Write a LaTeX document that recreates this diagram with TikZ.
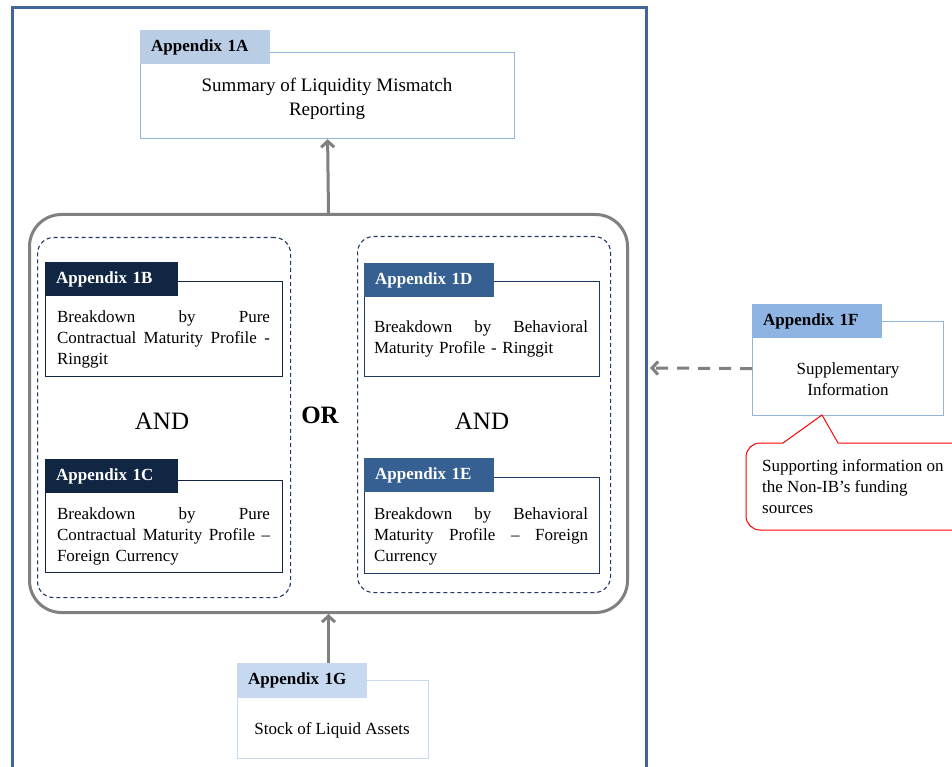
\documentclass[tikz,border=0pt]{standalone}
\usepackage{fontspec}
\setmainfont{Liberation Serif}
\usetikzlibrary{arrows.meta}
\definecolor{frameblue}{RGB}{65,103,154}
\definecolor{tabA}{RGB}{185,205,229}
\definecolor{lineA}{RGB}{149,179,215}
\definecolor{navy}{RGB}{17,38,66}
\definecolor{midblue}{RGB}{55,96,146}
\definecolor{boxnavy}{RGB}{31,56,100}
\definecolor{tabF}{RGB}{141,180,226}
\definecolor{tabG}{RGB}{198,217,241}
\definecolor{arrgray}{RGB}{128,128,128}
\definecolor{calred}{RGB}{255,0,0}
\newcommand\jl[2]{\leavevmode\hbox to #1{#2}}
\tikzset{
  body/.style={font=\fontsize{17}{21}\selectfont, inner sep=0pt},
  tabbox/.style={anchor=north west, minimum height=34pt, text width=108pt, inner xsep=11pt, inner ysep=0pt, align=left, font=\fontsize{17}{20}\selectfont\bfseries},
  panel/.style={anchor=north west, inner sep=0pt},
  arr/.style={draw=arrgray, line width=3pt, -{Straight Barb[length=6pt,width=13pt]}},
}
\begin{document}
\begin{tikzpicture}[x=1pt,y=-1pt]
\clip (0,0) rectangle (952,767);
\fill[white] (0,0) rectangle (952,767);
% outer frame
\draw[frameblue, line width=3pt] (12,800) -- (12,8) -- (646,8) -- (646,800);
% Appendix 1A
\node[panel, draw=lineA, line width=1.2pt, minimum width=374pt, minimum height=86pt] (a1box) at (140,52) {};
\node[tabbox, fill=tabA] (a1tab) at (140,30) {Appendix 1A};
\node[body, font=\fontsize{19}{24}\selectfont, align=center] (a1text) at (327,99) {Summary of Liquidity Mismatch\\Reporting};
% big group
\node[panel, draw=arrgray, line width=3pt, rounded corners=32pt, minimum width=598pt, minimum height=398pt] (grp) at (28,213) {};
\node[panel, draw=boxnavy, line width=1.1pt, dash pattern=on 4pt off 3pt, rounded corners=16pt, minimum width=253pt, minimum height=360pt] (gL) at (37,237) {};
\node[panel, draw=boxnavy, line width=1.1pt, dash pattern=on 4pt off 3pt, rounded corners=16pt, minimum width=253pt, minimum height=356pt] (gR) at (357,236) {};
% 1B
\node[panel, draw=navy, line width=1.3pt, minimum width=237pt, minimum height=95pt] (b1box) at (45,281) {};
\node[tabbox, fill=navy, text=white, text width=111pt] (b1tab) at (45,262) {Appendix 1B};
\node[body, text width=213pt, align=left] (b1text) at (163.5,339) {\jl{213pt}{Breakdown\hfill by\hfill Pure}\\\jl{213pt}{Contractual\hfill Maturity\hfill Profile\hfill -}\\Ringgit};
% 1C
\node[panel, draw=navy, line width=1.3pt, minimum width=237pt, minimum height=92pt] (c1box) at (45,480) {};
\node[tabbox, fill=navy, text=white, text width=111pt] (c1tab) at (45,459) {Appendix 1C};
\node[body, text width=213pt, align=left] (c1text) at (163.5,536) {\jl{213pt}{Breakdown\hfill by\hfill Pure}\\\jl{213pt}{Contractual\hfill Maturity\hfill Profile\hfill –}\\Foreign Currency};
% 1D
\node[panel, draw=boxnavy, line width=1.3pt, minimum width=235pt, minimum height=95pt] (d1box) at (364,281) {};
\node[tabbox, fill=midblue, text=white] (d1tab) at (364,263) {Appendix 1D};
\node[body, text width=214pt, align=left] (d1text) at (481,338.5) {\jl{214pt}{Breakdown\hfill by\hfill Behavioral}\\Maturity Profile - Ringgit};
% 1E
\node[panel, draw=boxnavy, line width=1.3pt, minimum width=235pt, minimum height=96pt] (e1box) at (364,477) {};
\node[tabbox, fill=midblue, text=white] (e1tab) at (364,458) {Appendix 1E};
\node[body, text width=214pt, align=left] (e1text) at (481,536) {\jl{214pt}{Breakdown\hfill by\hfill Behavioral}\\\jl{214pt}{Maturity\hfill Profile\hfill –\hfill Foreign}\\Currency};
% AND / OR
\node[body, font=\fontsize{25}{28}\selectfont] (andL) at (162,421) {AND};
\node[body, font=\fontsize{25}{28}\selectfont] (andR) at (482,421) {AND};
\node[body, font=\fontsize{25}{28}\selectfont\bfseries] (orlab) at (320,415) {OR};
% 1F
\node[panel, draw=lineA, line width=1.2pt, minimum width=191pt, minimum height=94pt] (f1box) at (752,321) {};
\node[tabbox, fill=tabF] (f1tab) at (752,304) {Appendix 1F};
\node[body, align=center] (f1text) at (848,379) {Supplementary\\Information};
% 1G
\node[panel, draw=tabG, line width=1.2pt, minimum width=191pt, minimum height=78pt] (g1box) at (237,680) {};
\node[tabbox, fill=tabG, minimum height=35pt] (g1tab) at (237,663) {Appendix 1G};
\node[body] (g1text) at (332,730) {Stock of Liquid Assets};
% callout
\draw[calred, line width=1pt] (783,443) -- (822,415) -- (838,443);
\draw[calred, line width=1pt, rounded corners=14pt] (838,443) -- (970,443) -- (970,530) -- (746,530) -- (746,443) -- (783,443);
\node[body, anchor=west, align=left] (note) at (762,487) {Supporting information on\\the Non-IB’s funding\\sources};
% connectors
\coordinate (frameR) at (650,368);
\draw[arr] (grp.north) -- (a1box.south);
\draw[arr] (g1tab.north -| grp.south) -- (grp.south);
\draw[arr, dash pattern=on 12pt off 9pt] (f1box.west) -- (frameR);
\end{tikzpicture}
\end{document}
